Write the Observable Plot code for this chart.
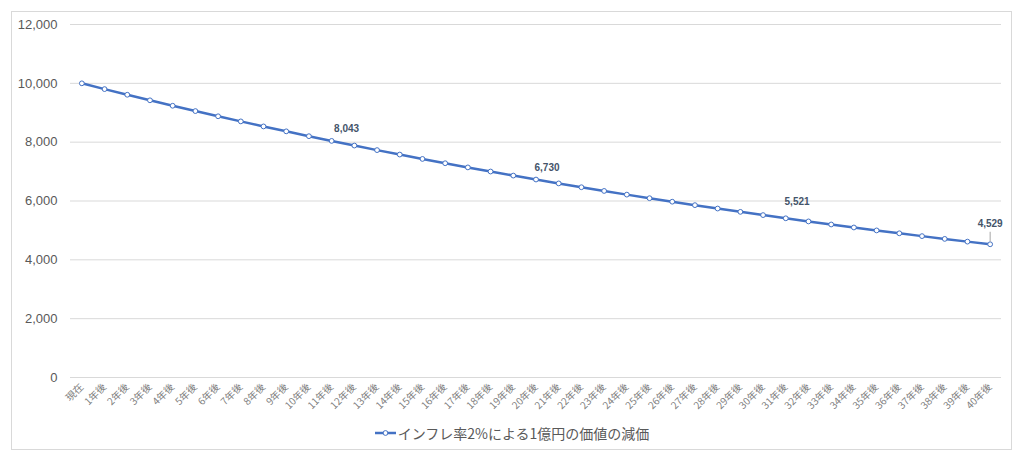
<!DOCTYPE html>
<html>
<head>
<meta charset="utf-8">
<script src="https://cdn.jsdelivr.net/npm/d3@7"></script>
<script src="https://cdn.jsdelivr.net/npm/@observablehq/plot@0.6"></script>
<style>
  html, body { margin: 0; padding: 0; background: #fff; }
  #wrap { position: relative; width: 1024px; height: 458px; overflow: hidden; font-family: "Liberation Sans", "Noto Sans CJK JP", sans-serif; }
  #frame { position: absolute; left: 11px; top: 11px; width: 1001px; height: 439px; border: 1px solid #d9d9d9; box-sizing: border-box; }
  #chart { position: absolute; left: 0; top: 0; }
  #legend { position: absolute; left: 0; top: 422px; width: 1024px; height: 22px; display: flex; justify-content: center; align-items: center; font-family: "Noto Sans CJK JP", sans-serif; font-size: 14px; color: #595959; }
  #legend svg { margin-right: 1px; }
</style>
</head>
<body>
<div id="wrap">
  <div id="frame"></div>
  <div id="chart"></div>
  <div id="legend"></div>
</div>
<script>
const categories = ["現在","1年後","2年後","3年後","4年後","5年後","6年後","7年後","8年後","9年後","10年後",
  "11年後","12年後","13年後","14年後","15年後","16年後","17年後","18年後","19年後","20年後",
  "21年後","22年後","23年後","24年後","25年後","26年後","27年後","28年後","29年後","30年後",
  "31年後","32年後","33年後","34年後","35年後","36年後","37年後","38年後","39年後","40年後"];
const values = [10000,9804,9612,9423,9238,9057,8880,8706,8535,8368,8203,
  8043,7885,7730,7579,7430,7284,7142,7002,6864,6730,
  6598,6468,6342,6217,6095,5976,5859,5744,5631,5521,
  5412,5306,5202,5100,5000,4902,4806,4712,4619,4529];
const yTicks = [0,2000,4000,6000,8000,10000,12000];
const seriesName = "インフレ率2%による1億円の価値の減価";
const labelCats = ["11年後","20年後","30年後","40年後"];

const data = categories.map((c, i) => ({cat: c, v: values[i]}));
const lab = (c) => data.filter(d => d.cat === c);
const fmt = d3.format(",");
const lineColor = "#4472C4";

const labelStyle = {x: "cat", y: "v", text: d => fmt(d.v), fontSize: 10, fontWeight: "bold", fill: "#44546A", fontFamily: "Liberation Sans, sans-serif"};

const chart = Plot.plot({
  width: 1024,
  height: 420,
  marginLeft: 70,
  marginRight: 23,
  marginTop: 24,
  marginBottom: 43,
  style: {background: "transparent", fontFamily: "Liberation Sans, Noto Sans CJK JP, sans-serif"},
  x: {type: "point", domain: categories, padding: 0.5, round: false, label: null},
  y: {domain: [0, 12000], label: null},
  marks: [
    Plot.ruleY(yTicks, {stroke: "#d9d9d9", strokeWidth: 1}),
    Plot.axisY({ticks: yTicks, tickFormat: fmt, tickSize: 0, tickPadding: 13, fontSize: 13, fill: "#595959", label: null}),
    Plot.axisX({tickSize: 0, tickPadding: 8, tickRotate: -45, fontSize: 10, fill: "#808080", fontFamily: "Noto Sans CJK JP, sans-serif", label: null}),
    Plot.line(data, {x: "cat", y: "v", stroke: lineColor, strokeWidth: 2.5}),
    Plot.dot(data, {x: "cat", y: "v", r: 2.4, fill: "white", stroke: lineColor, strokeWidth: 1}),
    Plot.text(lab(labelCats[0]), {...labelStyle, dx: 15, dy: -12}),
    Plot.text(lab(labelCats[1]), {...labelStyle, dx: 11, dy: -12}),
    Plot.text(lab(labelCats[2]), {...labelStyle, dx: 34, dy: -13}),
    Plot.text(lab(labelCats[3]), {...labelStyle, dx: 0, dy: -20}),
    Plot.ruleX(lab(labelCats[3]), {x: "cat", y1: "v", y2: "v", insetTop: -12, insetBottom: 2, stroke: "#a6a6a6", strokeWidth: 1})
  ]
});
document.getElementById("chart").appendChild(chart);

const legend = document.getElementById("legend");
legend.innerHTML = `<svg width="22" height="10"><line x1="0" y1="5" x2="21" y2="5" stroke="${lineColor}" stroke-width="2.5"/><circle cx="10.5" cy="5" r="2.4" fill="white" stroke="${lineColor}" stroke-width="1"/></svg><span>${seriesName}</span>`;
</script>
</body>
</html>
